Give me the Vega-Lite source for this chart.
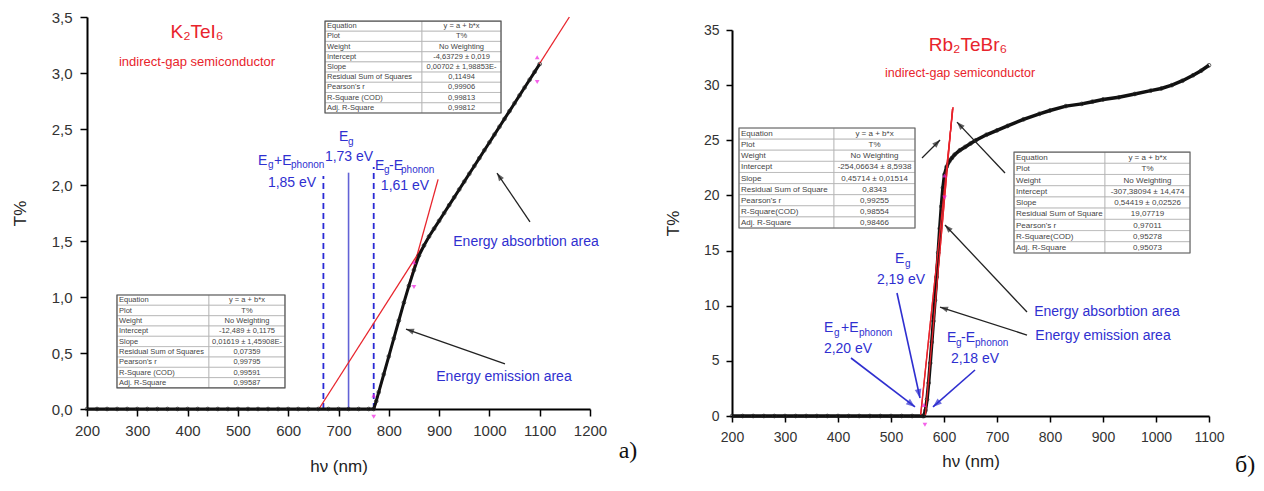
{
  "$schema": "https://vega.github.io/schema/vega-lite/v6.json",
  "background": "white",
  "padding": {"left": 11, "top": 10, "right": 0, "bottom": 0},
  "spacing": 26,
  "align": "none",
  "config": {
    "view": {"stroke": null},
    "font": "Liberation Sans",
    "axis": {
      "grid": false,
      "domainColor": "#000",
      "domainWidth": 2,
      "tickColor": "#000",
      "tickWidth": 1.5,
      "tickSize": 7,
      "labelColor": "#333",
      "labelFont": "Liberation Sans",
      "labelFontSize": 15,
      "labelFlush": false,
      "labelOverlap": false,
      "labelPadding": 4,
      "titleFont": "Liberation Sans",
      "titleFontSize": 17,
      "titleFontWeight": "normal",
      "titleColor": "#222"
    }
  },
  "datasets": {
    "k2Curve": [
      {"x": 200, "y": 0}, {"x": 220, "y": 0}, {"x": 240, "y": 0}, {"x": 260, "y": 0}, {"x": 280, "y": 0},
      {"x": 300, "y": 0}, {"x": 320, "y": 0}, {"x": 340, "y": 0}, {"x": 360, "y": 0}, {"x": 380, "y": 0},
      {"x": 400, "y": 0}, {"x": 420, "y": 0}, {"x": 440, "y": 0}, {"x": 460, "y": 0}, {"x": 480, "y": 0},
      {"x": 500, "y": 0}, {"x": 520, "y": 0}, {"x": 540, "y": 0}, {"x": 560, "y": 0}, {"x": 580, "y": 0},
      {"x": 600, "y": 0}, {"x": 620, "y": 0}, {"x": 640, "y": 0}, {"x": 660, "y": 0}, {"x": 680, "y": 0},
      {"x": 700, "y": 0}, {"x": 720, "y": 0}, {"x": 740, "y": 0}, {"x": 760, "y": 0}, {"x": 770, "y": 0},
      {"x": 775, "y": 0.07}, {"x": 780, "y": 0.15}, {"x": 790, "y": 0.31}, {"x": 800, "y": 0.47},
      {"x": 810, "y": 0.63}, {"x": 820, "y": 0.79}, {"x": 830, "y": 0.95}, {"x": 840, "y": 1.1},
      {"x": 850, "y": 1.24}, {"x": 860, "y": 1.37}, {"x": 870, "y": 1.46}, {"x": 880, "y": 1.54},
      {"x": 890, "y": 1.61}, {"x": 900, "y": 1.68}, {"x": 910, "y": 1.75}, {"x": 920, "y": 1.82},
      {"x": 930, "y": 1.89}, {"x": 940, "y": 1.96}, {"x": 950, "y": 2.03}, {"x": 960, "y": 2.1},
      {"x": 970, "y": 2.17}, {"x": 980, "y": 2.24}, {"x": 990, "y": 2.31}, {"x": 1000, "y": 2.38},
      {"x": 1010, "y": 2.45}, {"x": 1020, "y": 2.52}, {"x": 1030, "y": 2.59}, {"x": 1040, "y": 2.66},
      {"x": 1050, "y": 2.73}, {"x": 1060, "y": 2.8}, {"x": 1070, "y": 2.87}, {"x": 1080, "y": 2.94},
      {"x": 1090, "y": 3.01}, {"x": 1100, "y": 3.08}
    ],
    "k2Fits": [
      {"fit": "absorption", "x": 661, "y": 0}, {"fit": "absorption", "x": 1159, "y": 3.5},
      {"fit": "emission", "x": 771.4, "y": 0}, {"fit": "emission", "x": 898, "y": 2.05}
    ],
    "k2GapDashed": [
      {"x": 670, "y": 0, "y2": 2.08}, {"x": 770, "y": 0, "y2": 2.16}
    ],
    "k2GapSolid": [
      {"x": 720, "y": 0, "y2": 2.11}
    ],
    "k2MarkUp": [{"x": 770, "y": 0.12}, {"x": 850, "y": 1.31}, {"x": 1095, "y": 3.14}],
    "k2MarkDown": [{"x": 770, "y": -0.07}, {"x": 850, "y": 1.09}, {"x": 1095, "y": 2.92}],
    "k2Arrows": [
      {"name": "absorption", "x": 1080.7, "y": 1.67, "x2": 1015.1, "y2": 2.107},
      {"name": "emission", "x": 1031, "y": 0.402, "x2": 834.2, "y2": 0.714}
    ],
    "k2Boxes": [
      {"xl": 673.2, "xr": 1023.1, "yt": 3.464, "yb": 2.643},
      {"xl": 259.6, "xr": 593.6, "yt": 1.018, "yb": 0.188}
    ],
    "k2Tables": [
      {"label": "Equation", "value": "y = a + b*x", "xl": 673.2, "xm": 866.0, "xr": 1023.1, "xc": 944.6, "yt": 3.464, "yb": 3.373},
      {"label": "Plot", "value": "T%", "xl": 673.2, "xm": 866.0, "xr": 1023.1, "xc": 944.6, "yt": 3.373, "yb": 3.282},
      {"label": "Weight", "value": "No Weighting", "xl": 673.2, "xm": 866.0, "xr": 1023.1, "xc": 944.6, "yt": 3.282, "yb": 3.19},
      {"label": "Intercept", "value": "-4,63729 ± 0,019", "xl": 673.2, "xm": 866.0, "xr": 1023.1, "xc": 944.6, "yt": 3.19, "yb": 3.099},
      {"label": "Slope", "value": "0,00702 ± 1,98853E-", "xl": 673.2, "xm": 866.0, "xr": 1023.1, "xc": 944.6, "yt": 3.099, "yb": 3.008},
      {"label": "Residual Sum of Squares", "value": "0,11494", "xl": 673.2, "xm": 866.0, "xr": 1023.1, "xc": 944.6, "yt": 3.008, "yb": 2.917},
      {"label": "Pearson's r", "value": "0,99906", "xl": 673.2, "xm": 866.0, "xr": 1023.1, "xc": 944.6, "yt": 2.917, "yb": 2.826},
      {"label": "R-Square (COD)", "value": "0,99813", "xl": 673.2, "xm": 866.0, "xr": 1023.1, "xc": 944.6, "yt": 2.826, "yb": 2.734},
      {"label": "Adj. R-Square", "value": "0,99812", "xl": 673.2, "xm": 866.0, "xr": 1023.1, "xc": 944.6, "yt": 2.734, "yb": 2.643},
      {"label": "Equation", "value": "y = a + b*x", "xl": 259.6, "xm": 442.5, "xr": 593.6, "xc": 518, "yt": 1.018, "yb": 0.926},
      {"label": "Plot", "value": "T%", "xl": 259.6, "xm": 442.5, "xr": 593.6, "xc": 518, "yt": 0.926, "yb": 0.833},
      {"label": "Weight", "value": "No Weighting", "xl": 259.6, "xm": 442.5, "xr": 593.6, "xc": 518, "yt": 0.833, "yb": 0.741},
      {"label": "Intercept", "value": "-12,489 ± 0,1175", "xl": 259.6, "xm": 442.5, "xr": 593.6, "xc": 518, "yt": 0.741, "yb": 0.649},
      {"label": "Slope", "value": "0,01619 ± 1,45908E-", "xl": 259.6, "xm": 442.5, "xr": 593.6, "xc": 518, "yt": 0.649, "yb": 0.557},
      {"label": "Residual Sum of Squares", "value": "0,07359", "xl": 259.6, "xm": 442.5, "xr": 593.6, "xc": 518, "yt": 0.557, "yb": 0.464},
      {"label": "Pearson's r", "value": "0,99795", "xl": 259.6, "xm": 442.5, "xr": 593.6, "xc": 518, "yt": 0.464, "yb": 0.372},
      {"label": "R-Square (COD)", "value": "0,99591", "xl": 259.6, "xm": 442.5, "xr": 593.6, "xc": 518, "yt": 0.372, "yb": 0.28},
      {"label": "Adj. R-Square", "value": "0,99587", "xl": 259.6, "xm": 442.5, "xr": 593.6, "xc": 518, "yt": 0.28, "yb": 0.188}
    ],
    "k2Title": [{"x": 418.7, "y": 3.366, "text": "K₂TeI₆"}],
    "k2Subtitle": [{"x": 418.7, "y": 3.098, "text": "indirect-gap semiconductor"}],
    "k2Blue": [
      {"x": 701, "y": 2.43, "text": "E"},
      {"x": 540, "y": 2.214, "text": "E"},
      {"x": 571.8, "y": 2.214, "text": "+E"},
      {"x": 772.6, "y": 2.17, "text": "E"},
      {"x": 800.4, "y": 2.17, "text": "-E"}
    ],
    "k2BlueSub": [
      {"x": 718.9, "y": 2.385, "text": "g"},
      {"x": 559.8, "y": 2.175, "text": "g"},
      {"x": 605.6, "y": 2.175, "text": "phonon"},
      {"x": 790.5, "y": 2.13, "text": "g"},
      {"x": 824.3, "y": 2.13, "text": "phonon"}
    ],
    "k2BlueCenter": [
      {"x": 720.9, "y": 2.25, "text": "1,73 eV"},
      {"x": 607.6, "y": 2.02, "text": "1,85 eV"},
      {"x": 832.2, "y": 1.995, "text": "1,61 eV"},
      {"x": 1072.8, "y": 1.491, "text": "Energy absorbtion area"},
      {"x": 1029, "y": 0.286, "text": "Energy emission area"}
    ],
    "k2Tag": [{"x": 1275.5, "y": -0.375, "text": "a)"}],

    "rbCurve": [
      {"x": 200, "y": 0}, {"x": 220, "y": 0}, {"x": 240, "y": 0}, {"x": 260, "y": 0}, {"x": 280, "y": 0},
      {"x": 300, "y": 0}, {"x": 320, "y": 0}, {"x": 340, "y": 0}, {"x": 360, "y": 0}, {"x": 380, "y": 0},
      {"x": 400, "y": 0}, {"x": 420, "y": 0}, {"x": 440, "y": 0}, {"x": 460, "y": 0}, {"x": 480, "y": 0},
      {"x": 500, "y": 0}, {"x": 520, "y": 0}, {"x": 540, "y": 0}, {"x": 560, "y": 0}, {"x": 562, "y": 0},
      {"x": 565, "y": 0.5}, {"x": 568, "y": 1.5}, {"x": 571, "y": 3.0}, {"x": 574, "y": 4.8},
      {"x": 577, "y": 6.7}, {"x": 580, "y": 8.6}, {"x": 583, "y": 10.5}, {"x": 586, "y": 12.6},
      {"x": 589, "y": 14.8}, {"x": 592, "y": 17.0}, {"x": 595, "y": 19.0}, {"x": 598, "y": 20.7},
      {"x": 601, "y": 21.9}, {"x": 605, "y": 22.6}, {"x": 610, "y": 23.1}, {"x": 615, "y": 23.4},
      {"x": 620, "y": 23.7}, {"x": 630, "y": 24.1}, {"x": 640, "y": 24.4}, {"x": 650, "y": 24.7},
      {"x": 660, "y": 25.0}, {"x": 680, "y": 25.5}, {"x": 700, "y": 25.9}, {"x": 720, "y": 26.3},
      {"x": 750, "y": 26.9}, {"x": 780, "y": 27.4}, {"x": 800, "y": 27.7}, {"x": 830, "y": 28.1},
      {"x": 860, "y": 28.3}, {"x": 880, "y": 28.5}, {"x": 900, "y": 28.7}, {"x": 930, "y": 28.9},
      {"x": 960, "y": 29.2}, {"x": 990, "y": 29.5}, {"x": 1010, "y": 29.7}, {"x": 1030, "y": 30.0},
      {"x": 1050, "y": 30.4}, {"x": 1070, "y": 30.9}, {"x": 1085, "y": 31.3}, {"x": 1100, "y": 31.8}
    ],
    "rbFits": [
      {"fit": "emission", "x": 556, "y": 0.1}, {"fit": "emission", "x": 617, "y": 28.0},
      {"fit": "absorption", "x": 565, "y": 0.09}, {"fit": "absorption", "x": 616, "y": 27.84}
    ],
    "rbMarkUp": [{"x": 562, "y": 1.0}, {"x": 601, "y": 21.8}],
    "rbMarkDown": [{"x": 564, "y": -0.8}, {"x": 601, "y": 19.8}],
    "rbArrowsBlack": [
      {"name": "table1", "x": 558.5, "y": 23.39, "x2": 592.5, "y2": 25.02},
      {"name": "table2", "x": 715.1, "y": 22.03, "x2": 624.5, "y2": 26.65},
      {"name": "absorption", "x": 756.6, "y": 9.43, "x2": 601.9, "y2": 17.32},
      {"name": "emission", "x": 756.6, "y": 7.34, "x2": 592.5, "y2": 9.88}
    ],
    "rbArrowsBlue": [
      {"name": "gap", "x": 511.3, "y": 11.15, "x2": 554.7, "y2": 1.63},
      {"name": "gapPlus", "x": 424.5, "y": 5.26, "x2": 545.3, "y2": 0.82},
      {"name": "gapMinus", "x": 658.5, "y": 4.17, "x2": 579.2, "y2": 0.82}
    ],
    "rbBoxes": [
      {"xl": 213.2, "xr": 545.3, "yt": 26.11, "yb": 17.04},
      {"xl": 732.1, "xr": 1064.2, "yt": 23.93, "yb": 14.78}
    ],
    "rbTables": [
      {"label": "Equation", "value": "y = a + b*x", "xl": 213.2, "xm": 392.5, "xr": 545.3, "xc": 468.9, "yt": 26.11, "yb": 25.1},
      {"label": "Plot", "value": "T%", "xl": 213.2, "xm": 392.5, "xr": 545.3, "xc": 468.9, "yt": 25.1, "yb": 24.1},
      {"label": "Weight", "value": "No Weighting", "xl": 213.2, "xm": 392.5, "xr": 545.3, "xc": 468.9, "yt": 24.1, "yb": 23.09},
      {"label": "Intercept", "value": "-254,06634 ± 8,5938", "xl": 213.2, "xm": 392.5, "xr": 545.3, "xc": 468.9, "yt": 23.09, "yb": 22.08},
      {"label": "Slope", "value": "0,45714 ± 0,01514", "xl": 213.2, "xm": 392.5, "xr": 545.3, "xc": 468.9, "yt": 22.08, "yb": 21.07},
      {"label": "Residual Sum of Square", "value": "0,8343", "xl": 213.2, "xm": 392.5, "xr": 545.3, "xc": 468.9, "yt": 21.07, "yb": 20.07},
      {"label": "Pearson's r", "value": "0,99255", "xl": 213.2, "xm": 392.5, "xr": 545.3, "xc": 468.9, "yt": 20.07, "yb": 19.06},
      {"label": "R-Square(COD)", "value": "0,98554", "xl": 213.2, "xm": 392.5, "xr": 545.3, "xc": 468.9, "yt": 19.06, "yb": 18.05},
      {"label": "Adj. R-Square", "value": "0,98466", "xl": 213.2, "xm": 392.5, "xr": 545.3, "xc": 468.9, "yt": 18.05, "yb": 17.04},
      {"label": "Equation", "value": "y = a + b*x", "xl": 732.1, "xm": 903.8, "xr": 1064.2, "xc": 984, "yt": 23.93, "yb": 22.91},
      {"label": "Plot", "value": "T%", "xl": 732.1, "xm": 903.8, "xr": 1064.2, "xc": 984, "yt": 22.91, "yb": 21.9},
      {"label": "Weight", "value": "No Weighting", "xl": 732.1, "xm": 903.8, "xr": 1064.2, "xc": 984, "yt": 21.9, "yb": 20.88},
      {"label": "Intercept", "value": "-307,38094 ± 14,474", "xl": 732.1, "xm": 903.8, "xr": 1064.2, "xc": 984, "yt": 20.88, "yb": 19.86},
      {"label": "Slope", "value": "0,54419 ± 0,02526", "xl": 732.1, "xm": 903.8, "xr": 1064.2, "xc": 984, "yt": 19.86, "yb": 18.85},
      {"label": "Residual Sum of Square", "value": "19,07719", "xl": 732.1, "xm": 903.8, "xr": 1064.2, "xc": 984, "yt": 18.85, "yb": 17.83},
      {"label": "Pearson's r", "value": "0,97011", "xl": 732.1, "xm": 903.8, "xr": 1064.2, "xc": 984, "yt": 17.83, "yb": 16.81},
      {"label": "R-Square(COD)", "value": "0,95278", "xl": 732.1, "xm": 903.8, "xr": 1064.2, "xc": 984, "yt": 16.81, "yb": 15.8},
      {"label": "Adj. R-Square", "value": "0,95073", "xl": 732.1, "xm": 903.8, "xr": 1064.2, "xc": 984, "yt": 15.8, "yb": 14.78}
    ],
    "rbTitle": [{"x": 645.3, "y": 33.64, "text": "Rb₂TeBr₆"}],
    "rbSubtitle": [{"x": 630.2, "y": 31.1, "text": "indirect-gap semiconductor"}],
    "rbBlue": [
      {"x": 507.5, "y": 14.2, "text": "E"},
      {"x": 373.6, "y": 7.98, "text": "E"},
      {"x": 405.7, "y": 7.98, "text": "+E"},
      {"x": 605.7, "y": 7.07, "text": "E"},
      {"x": 632.1, "y": 7.07, "text": "-E"}
    ],
    "rbBlueSub": [
      {"x": 526.4, "y": 13.75, "text": "g"},
      {"x": 392.5, "y": 7.5, "text": "g"},
      {"x": 439.6, "y": 7.5, "text": "phonon"},
      {"x": 622.6, "y": 6.6, "text": "g"},
      {"x": 658.5, "y": 6.6, "text": "phonon"}
    ],
    "rbBlueCenter": [
      {"x": 518.9, "y": 12.35, "text": "2,19 eV"},
      {"x": 418.9, "y": 6.05, "text": "2,20 eV"},
      {"x": 658.5, "y": 5.15, "text": "2,18 eV"},
      {"x": 907.5, "y": 9.43, "text": "Energy absorbtion area"},
      {"x": 900, "y": 7.25, "text": "Energy emission area"}
    ],
    "rbTag": [{"x": 1168, "y": -4.44, "text": "б)"}]
  },
  "hconcat": [
    {
      "width": 503,
      "height": 392,
      "layer": [
        {
          "data": {"name": "k2GapDashed"},
          "mark": {"type": "rule", "color": "#2a2ad4", "strokeWidth": 1.8, "strokeDash": [6, 4]},
          "encoding": {
            "x": {"field": "x", "type": "quantitative", "title": "hν (nm)",
              "scale": {"domain": [200, 1200], "nice": false, "zero": false},
              "axis": {
                "values": [200, 250, 300, 350, 400, 450, 500, 550, 600, 650, 700, 750, 800, 850, 900, 950, 1000, 1050, 1100, 1150, 1200],
                "labelExpr": "datum.value % 100 === 0 ? format(datum.value, 'd') : ''",
                "tickSize": {"condition": {"test": "datum.value % 100 === 0", "value": 7}, "value": 4},
                "labelPadding": 7, "titlePadding": 20}},
            "y": {"field": "y", "type": "quantitative", "title": "T%",
              "scale": {"domain": [0, 3.5], "nice": false, "zero": false},
              "axis": {
                "values": [0, 0.25, 0.5, 0.75, 1, 1.25, 1.5, 1.75, 2, 2.25, 2.5, 2.75, 3, 3.25, 3.5],
                "labelExpr": "(datum.value * 2) % 1 === 0 ? replace(format(datum.value, '.1f'), '.', ',') : ''",
                "tickSize": {"condition": {"test": "(datum.value * 2) % 1 === 0", "value": 7}, "value": 4},
                "labelPadding": 8, "titlePadding": 22}},
            "y2": {"field": "y2"}
          }
        },
        {
          "data": {"name": "k2GapSolid"},
          "mark": {"type": "rule", "color": "#6262d6", "strokeWidth": 1.6},
          "encoding": {
            "x": {"field": "x", "type": "quantitative"},
            "y": {"field": "y", "type": "quantitative"},
            "y2": {"field": "y2"}
          }
        },
        {
          "data": {"name": "k2Fits"},
          "mark": {"type": "line", "color": "#e8242c", "strokeWidth": 1.3},
          "encoding": {
            "x": {"field": "x", "type": "quantitative"},
            "y": {"field": "y", "type": "quantitative"},
            "detail": {"field": "fit"}
          }
        },
        {
          "data": {"name": "k2Curve"},
          "mark": {"type": "line", "color": "#111", "strokeWidth": 3},
          "encoding": {
            "x": {"field": "x", "type": "quantitative"},
            "y": {"field": "y", "type": "quantitative"}
          }
        },
        {
          "data": {"name": "k2Curve"},
          "mark": {"type": "point", "shape": "circle", "color": "#222", "size": 14, "strokeWidth": 1, "filled": false},
          "encoding": {
            "x": {"field": "x", "type": "quantitative"},
            "y": {"field": "y", "type": "quantitative"}
          }
        },
        {
          "data": {"name": "k2MarkUp"},
          "mark": {"type": "point", "shape": "triangle-up", "color": "#f020e0", "filled": true, "size": 22},
          "encoding": {
            "x": {"field": "x", "type": "quantitative"},
            "y": {"field": "y", "type": "quantitative"}
          }
        },
        {
          "data": {"name": "k2MarkDown"},
          "mark": {"type": "point", "shape": "triangle-down", "color": "#f020e0", "filled": true, "size": 22},
          "encoding": {
            "x": {"field": "x", "type": "quantitative"},
            "y": {"field": "y", "type": "quantitative"}
          }
        },
        {
          "data": {"name": "k2Arrows"},
          "mark": {"type": "rule", "color": "#222", "strokeWidth": 1.3},
          "encoding": {
            "x": {"field": "x", "type": "quantitative"},
            "y": {"field": "y", "type": "quantitative"},
            "x2": {"field": "x2"},
            "y2": {"field": "y2"}
          }
        },
        {
          "data": {"name": "k2Arrows"},
          "transform": [{"filter": "datum.name === 'absorption'"}],
          "mark": {"type": "point", "shape": "M0,0L-0.75,2L0.75,2Z", "filled": true, "color": "#222", "size": 64, "angle": 326},
          "encoding": {
            "x": {"field": "x2", "type": "quantitative"},
            "y": {"field": "y2", "type": "quantitative"}
          }
        },
        {
          "data": {"name": "k2Arrows"},
          "transform": [{"filter": "datum.name === 'emission'"}],
          "mark": {"type": "point", "shape": "M0,0L-0.75,2L0.75,2Z", "filled": true, "color": "#222", "size": 64, "angle": 289.5},
          "encoding": {
            "x": {"field": "x2", "type": "quantitative"},
            "y": {"field": "y2", "type": "quantitative"}
          }
        },
        {
          "data": {"name": "k2Tables"},
          "mark": {"type": "rect", "fill": "white", "stroke": "#b4b4b4", "strokeWidth": 0.8},
          "encoding": {
            "x": {"field": "xl", "type": "quantitative"},
            "x2": {"field": "xm"},
            "y": {"field": "yt", "type": "quantitative"},
            "y2": {"field": "yb"}
          }
        },
        {
          "data": {"name": "k2Tables"},
          "mark": {"type": "rect", "fill": "white", "stroke": "#b4b4b4", "strokeWidth": 0.8},
          "encoding": {
            "x": {"field": "xm", "type": "quantitative"},
            "x2": {"field": "xr"},
            "y": {"field": "yt", "type": "quantitative"},
            "y2": {"field": "yb"}
          }
        },
        {
          "data": {"name": "k2Boxes"},
          "mark": {"type": "rect", "fill": null, "filled": false, "stroke": "#555", "strokeWidth": 1.2},
          "encoding": {
            "x": {"field": "xl", "type": "quantitative"},
            "x2": {"field": "xr"},
            "y": {"field": "yt", "type": "quantitative"},
            "y2": {"field": "yb"}
          }
        },
        {
          "data": {"name": "k2Tables"},
          "mark": {"type": "text", "align": "left", "baseline": "bottom", "dx": 2, "dy": -1, "fontSize": 7.5, "color": "#444"},
          "encoding": {
            "x": {"field": "xl", "type": "quantitative"},
            "y": {"field": "yb", "type": "quantitative"},
            "text": {"field": "label"}
          }
        },
        {
          "data": {"name": "k2Tables"},
          "mark": {"type": "text", "align": "center", "baseline": "bottom", "dy": -1, "fontSize": 7.5, "color": "#444"},
          "encoding": {
            "x": {"field": "xc", "type": "quantitative"},
            "y": {"field": "yb", "type": "quantitative"},
            "text": {"field": "value"}
          }
        },
        {
          "data": {"name": "k2Title"},
          "mark": {"type": "text", "align": "center", "baseline": "middle", "fontSize": 19, "color": "#e8242c"},
          "encoding": {
            "x": {"field": "x", "type": "quantitative"},
            "y": {"field": "y", "type": "quantitative"},
            "text": {"field": "text"}
          }
        },
        {
          "data": {"name": "k2Subtitle"},
          "mark": {"type": "text", "align": "center", "baseline": "middle", "fontSize": 13, "color": "#e8242c"},
          "encoding": {
            "x": {"field": "x", "type": "quantitative"},
            "y": {"field": "y", "type": "quantitative"},
            "text": {"field": "text"}
          }
        },
        {
          "data": {"name": "k2Blue"},
          "mark": {"type": "text", "align": "left", "baseline": "middle", "fontSize": 14, "color": "#2f2fd0"},
          "encoding": {
            "x": {"field": "x", "type": "quantitative"},
            "y": {"field": "y", "type": "quantitative"},
            "text": {"field": "text"}
          }
        },
        {
          "data": {"name": "k2BlueSub"},
          "mark": {"type": "text", "align": "left", "baseline": "middle", "fontSize": 10, "color": "#2f2fd0"},
          "encoding": {
            "x": {"field": "x", "type": "quantitative"},
            "y": {"field": "y", "type": "quantitative"},
            "text": {"field": "text"}
          }
        },
        {
          "data": {"name": "k2BlueCenter"},
          "mark": {"type": "text", "align": "center", "baseline": "middle", "fontSize": 14, "color": "#2f2fd0"},
          "encoding": {
            "x": {"field": "x", "type": "quantitative"},
            "y": {"field": "y", "type": "quantitative"},
            "text": {"field": "text"}
          }
        },
        {
          "data": {"name": "k2Tag"},
          "mark": {"type": "text", "align": "center", "baseline": "middle", "fontSize": 24, "font": "Liberation Serif", "color": "#111"},
          "encoding": {
            "x": {"field": "x", "type": "quantitative"},
            "y": {"field": "y", "type": "quantitative"},
            "text": {"field": "text"}
          }
        }
      ]
    },
    {
      "spacing": 0,
      "vconcat": [
        {
          "width": 477,
          "height": 6,
          "data": {"values": []},
          "mark": {"type": "point", "opacity": 0},
          "encoding": {}
        },
        {
          "width": 477,
          "height": 386,
          "layer": [
            {
              "data": {"name": "rbFits"},
              "mark": {"type": "line", "color": "#e8242c", "strokeWidth": 1.3},
              "encoding": {
                "x": {"field": "x", "type": "quantitative", "title": "hν (nm)",
                  "scale": {"domain": [200, 1100], "nice": false, "zero": false},
                  "axis": {
                    "values": [200, 250, 300, 350, 400, 450, 500, 550, 600, 650, 700, 750, 800, 850, 900, 950, 1000, 1050, 1100],
                    "labelExpr": "datum.value % 100 === 0 ? format(datum.value, 'd') : ''",
                    "tickSize": {"condition": {"test": "datum.value % 100 === 0", "value": 6}, "value": 3.5},
                    "titlePadding": 9, "labelPadding": 8, "labelFontSize": 14}},
                "y": {"field": "y", "type": "quantitative", "title": "T%",
                  "scale": {"domain": [0, 35], "nice": false, "zero": false},
                  "axis": {
                    "values": [0, 2.5, 5, 7.5, 10, 12.5, 15, 17.5, 20, 22.5, 25, 27.5, 30, 32.5, 35],
                    "labelExpr": "datum.value % 5 === 0 ? format(datum.value, 'd') : ''",
                    "tickSize": {"condition": {"test": "datum.value % 5 === 0", "value": 6}, "value": 3.5},
                    "titlePadding": 21, "labelPadding": 7, "labelFontSize": 14}},
                "detail": {"field": "fit"}
              }
            },
            {
              "data": {"name": "rbCurve"},
              "mark": {"type": "line", "color": "#111", "strokeWidth": 3.5},
              "encoding": {
                "x": {"field": "x", "type": "quantitative"},
                "y": {"field": "y", "type": "quantitative"}
              }
            },
            {
              "data": {"name": "rbCurve"},
              "mark": {"type": "point", "shape": "circle", "color": "#222", "size": 14, "strokeWidth": 1, "filled": false},
              "encoding": {
                "x": {"field": "x", "type": "quantitative"},
                "y": {"field": "y", "type": "quantitative"}
              }
            },
            {
              "data": {"name": "rbFits"},
              "mark": {"type": "line", "color": "#e8242c", "strokeWidth": 1.3},
              "encoding": {
                "x": {"field": "x", "type": "quantitative"},
                "y": {"field": "y", "type": "quantitative"},
                "detail": {"field": "fit"}
              }
            },
            {
              "data": {"name": "rbMarkUp"},
              "mark": {"type": "point", "shape": "triangle-up", "color": "#f020e0", "filled": true, "size": 22},
              "encoding": {
                "x": {"field": "x", "type": "quantitative"},
                "y": {"field": "y", "type": "quantitative"}
              }
            },
            {
              "data": {"name": "rbMarkDown"},
              "mark": {"type": "point", "shape": "triangle-down", "color": "#f020e0", "filled": true, "size": 22},
              "encoding": {
                "x": {"field": "x", "type": "quantitative"},
                "y": {"field": "y", "type": "quantitative"}
              }
            },
            {
              "data": {"name": "rbArrowsBlack"},
              "mark": {"type": "rule", "color": "#222", "strokeWidth": 1.3},
              "encoding": {
                "x": {"field": "x", "type": "quantitative"},
                "y": {"field": "y", "type": "quantitative"},
                "x2": {"field": "x2"},
                "y2": {"field": "y2"}
              }
            },
            {
              "data": {"name": "rbArrowsBlack"},
              "transform": [{"filter": "datum.name === 'table1'"}],
              "mark": {"type": "point", "shape": "M0,0L-0.75,2L0.75,2Z", "filled": true, "color": "#222", "size": 64, "angle": 45},
              "encoding": {
                "x": {"field": "x2", "type": "quantitative"},
                "y": {"field": "y2", "type": "quantitative"}
              }
            },
            {
              "data": {"name": "rbArrowsBlack"},
              "transform": [{"filter": "datum.name === 'table2' || datum.name === 'absorption'"}],
              "mark": {"type": "point", "shape": "M0,0L-0.75,2L0.75,2Z", "filled": true, "color": "#222", "size": 64, "angle": 316.7},
              "encoding": {
                "x": {"field": "x2", "type": "quantitative"},
                "y": {"field": "y2", "type": "quantitative"}
              }
            },
            {
              "data": {"name": "rbArrowsBlack"},
              "transform": [{"filter": "datum.name === 'emission'"}],
              "mark": {"type": "point", "shape": "M0,0L-0.75,2L0.75,2Z", "filled": true, "color": "#222", "size": 64, "angle": 287.8},
              "encoding": {
                "x": {"field": "x2", "type": "quantitative"},
                "y": {"field": "y2", "type": "quantitative"}
              }
            },
            {
              "data": {"name": "rbArrowsBlue"},
              "mark": {"type": "rule", "color": "#2f2fd0", "strokeWidth": 1.6},
              "encoding": {
                "x": {"field": "x", "type": "quantitative"},
                "y": {"field": "y", "type": "quantitative"},
                "x2": {"field": "x2"},
                "y2": {"field": "y2"}
              }
            },
            {
              "data": {"name": "rbArrowsBlue"},
              "transform": [{"filter": "datum.name === 'gap'"}],
              "mark": {"type": "point", "shape": "M0,0L-0.75,2L0.75,2Z", "filled": true, "color": "#2f2fd0", "size": 81, "angle": 167.6},
              "encoding": {
                "x": {"field": "x2", "type": "quantitative"},
                "y": {"field": "y2", "type": "quantitative"}
              }
            },
            {
              "data": {"name": "rbArrowsBlue"},
              "transform": [{"filter": "datum.name === 'gapPlus'"}],
              "mark": {"type": "point", "shape": "M0,0L-0.75,2L0.75,2Z", "filled": true, "color": "#2f2fd0", "size": 81, "angle": 127.4},
              "encoding": {
                "x": {"field": "x2", "type": "quantitative"},
                "y": {"field": "y2", "type": "quantitative"}
              }
            },
            {
              "data": {"name": "rbArrowsBlue"},
              "transform": [{"filter": "datum.name === 'gapMinus'"}],
              "mark": {"type": "point", "shape": "M0,0L-0.75,2L0.75,2Z", "filled": true, "color": "#2f2fd0", "size": 81, "angle": 228.6},
              "encoding": {
                "x": {"field": "x2", "type": "quantitative"},
                "y": {"field": "y2", "type": "quantitative"}
              }
            },
            {
              "data": {"name": "rbTables"},
              "mark": {"type": "rect", "fill": "white", "stroke": "#b4b4b4", "strokeWidth": 0.8},
              "encoding": {
                "x": {"field": "xl", "type": "quantitative"},
                "x2": {"field": "xm"},
                "y": {"field": "yt", "type": "quantitative"},
                "y2": {"field": "yb"}
              }
            },
            {
              "data": {"name": "rbTables"},
              "mark": {"type": "rect", "fill": "white", "stroke": "#b4b4b4", "strokeWidth": 0.8},
              "encoding": {
                "x": {"field": "xm", "type": "quantitative"},
                "x2": {"field": "xr"},
                "y": {"field": "yt", "type": "quantitative"},
                "y2": {"field": "yb"}
              }
            },
            {
              "data": {"name": "rbBoxes"},
              "mark": {"type": "rect", "fill": null, "filled": false, "stroke": "#666", "strokeWidth": 1.1},
              "encoding": {
                "x": {"field": "xl", "type": "quantitative"},
                "x2": {"field": "xr"},
                "y": {"field": "yt", "type": "quantitative"},
                "y2": {"field": "yb"}
              }
            },
            {
              "data": {"name": "rbTables"},
              "mark": {"type": "text", "align": "left", "baseline": "bottom", "dx": 2, "dy": -1, "fontSize": 8, "color": "#444"},
              "encoding": {
                "x": {"field": "xl", "type": "quantitative"},
                "y": {"field": "yb", "type": "quantitative"},
                "text": {"field": "label"}
              }
            },
            {
              "data": {"name": "rbTables"},
              "mark": {"type": "text", "align": "center", "baseline": "bottom", "dy": -1, "fontSize": 8, "color": "#444"},
              "encoding": {
                "x": {"field": "xc", "type": "quantitative"},
                "y": {"field": "yb", "type": "quantitative"},
                "text": {"field": "value"}
              }
            },
            {
              "data": {"name": "rbTitle"},
              "mark": {"type": "text", "align": "center", "baseline": "middle", "fontSize": 19, "color": "#e8242c"},
              "encoding": {
                "x": {"field": "x", "type": "quantitative"},
                "y": {"field": "y", "type": "quantitative"},
                "text": {"field": "text"}
              }
            },
            {
              "data": {"name": "rbSubtitle"},
              "mark": {"type": "text", "align": "center", "baseline": "middle", "fontSize": 12.5, "color": "#e8242c"},
              "encoding": {
                "x": {"field": "x", "type": "quantitative"},
                "y": {"field": "y", "type": "quantitative"},
                "text": {"field": "text"}
              }
            },
            {
              "data": {"name": "rbBlue"},
              "mark": {"type": "text", "align": "left", "baseline": "middle", "fontSize": 14, "color": "#2f2fd0"},
              "encoding": {
                "x": {"field": "x", "type": "quantitative"},
                "y": {"field": "y", "type": "quantitative"},
                "text": {"field": "text"}
              }
            },
            {
              "data": {"name": "rbBlueSub"},
              "mark": {"type": "text", "align": "left", "baseline": "middle", "fontSize": 10, "color": "#2f2fd0"},
              "encoding": {
                "x": {"field": "x", "type": "quantitative"},
                "y": {"field": "y", "type": "quantitative"},
                "text": {"field": "text"}
              }
            },
            {
              "data": {"name": "rbBlueCenter"},
              "mark": {"type": "text", "align": "center", "baseline": "middle", "fontSize": 14, "color": "#2f2fd0"},
              "encoding": {
                "x": {"field": "x", "type": "quantitative"},
                "y": {"field": "y", "type": "quantitative"},
                "text": {"field": "text"}
              }
            },
            {
              "data": {"name": "rbTag"},
              "mark": {"type": "text", "align": "center", "baseline": "middle", "fontSize": 24, "font": "Liberation Serif", "color": "#111"},
              "encoding": {
                "x": {"field": "x", "type": "quantitative"},
                "y": {"field": "y", "type": "quantitative"},
                "text": {"field": "text"}
              }
            }
          ]
        }
      ]
    }
  ]
}
